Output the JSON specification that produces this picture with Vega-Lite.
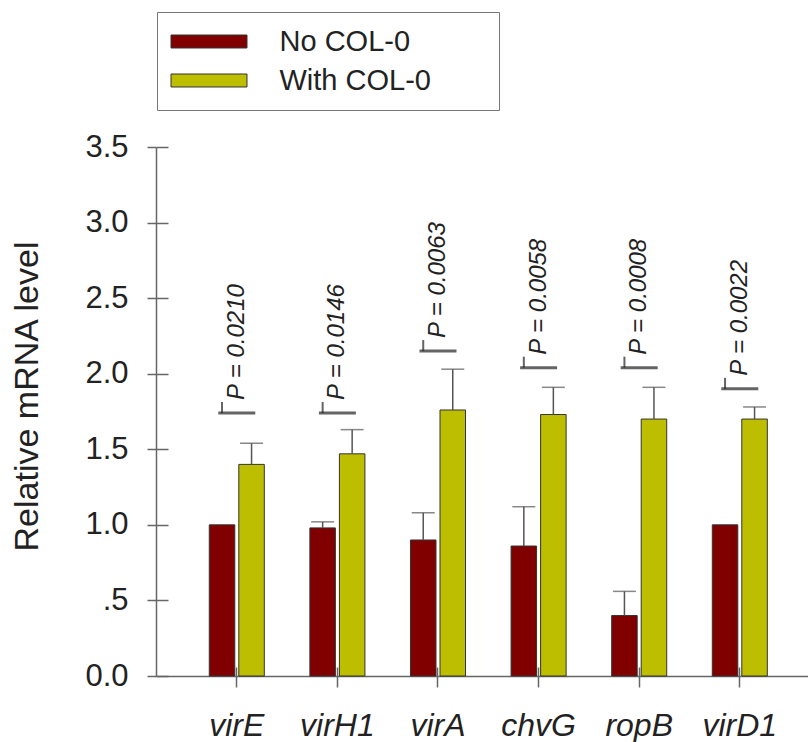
{
  "$schema": "https://vega.github.io/schema/vega-lite/v6.json",
  "autosize": "none",
  "width": 652,
  "height": 529,
  "padding": {"left": 156, "top": 147, "right": 0, "bottom": 66},
  "background": "white",
  "config": {
    "view": {"stroke": null},
    "font": "Liberation Sans",
    "axis": {"grid": false}
  },
  "datasets": {
    "expr": [
      {"gene": "virE", "group": "No COL-0", "value": 1.0, "upper": 1.0},
      {"gene": "virE", "group": "With COL-0", "value": 1.4, "upper": 1.54},
      {"gene": "virH1", "group": "No COL-0", "value": 0.98, "upper": 1.02},
      {"gene": "virH1", "group": "With COL-0", "value": 1.47, "upper": 1.63},
      {"gene": "virA", "group": "No COL-0", "value": 0.9, "upper": 1.08},
      {"gene": "virA", "group": "With COL-0", "value": 1.76, "upper": 2.03},
      {"gene": "chvG", "group": "No COL-0", "value": 0.86, "upper": 1.12},
      {"gene": "chvG", "group": "With COL-0", "value": 1.73, "upper": 1.91},
      {"gene": "ropB", "group": "No COL-0", "value": 0.4, "upper": 0.56},
      {"gene": "ropB", "group": "With COL-0", "value": 1.7, "upper": 1.91},
      {"gene": "virD1", "group": "No COL-0", "value": 1.0, "upper": 1.0},
      {"gene": "virD1", "group": "With COL-0", "value": 1.7, "upper": 1.78}
    ],
    "pvals": [
      {"gene": "virE", "label": "P = 0.0210", "pline": 1.74},
      {"gene": "virH1", "label": "P = 0.0146", "pline": 1.74},
      {"gene": "virA", "label": "P = 0.0063", "pline": 2.15},
      {"gene": "chvG", "label": "P = 0.0058", "pline": 2.04},
      {"gene": "ropB", "label": "P = 0.0008", "pline": 2.04},
      {"gene": "virD1", "label": "P = 0.0022", "pline": 1.9}
    ]
  },
  "layer": [
    {
      "data": {"name": "expr"},
      "mark": {"type": "bar", "stroke": "#333333", "strokeWidth": 1},
      "encoding": {
        "x": {
          "field": "gene", "type": "nominal",
          "sort": ["virE", "virH1", "virA", "chvG", "ropB", "virD1"],
          "scale": {"paddingInner": 0.453, "paddingOuter": 0.467, "align": 0.567},
          "axis": {
            "title": null, "labelAngle": 0, "labelFontSize": 32, "labelFontStyle": "italic",
            "labelColor": "#222222", "labelPadding": 23, "tickSize": 11, "tickColor": "#666666",
            "tickWidth": 1.5, "domainColor": "#666666", "domainWidth": 1.5
          }
        },
        "xOffset": {
          "field": "group", "type": "nominal",
          "scale": {"domain": ["No COL-0", "With COL-0"], "paddingInner": 0.136, "paddingOuter": 0}
        },
        "y": {
          "field": "value", "type": "quantitative",
          "scale": {"domain": [0, 3.5], "nice": false, "zero": true},
          "axis": {
            "values": [0, 0.5, 1, 1.5, 2, 2.5, 3, 3.5],
            "labelExpr": "datum.value == 0.5 ? '.5' : format(datum.value, '.1f')",
            "labelFontSize": 31, "labelColor": "#222222", "labelPadding": 19,
            "tickSize": 9, "tickColor": "#666666", "tickWidth": 1.5,
            "domainColor": "#666666", "domainWidth": 1.5,
            "title": "Relative mRNA level", "titleFontSize": 34, "titleFontWeight": "normal",
            "titleColor": "#222222", "titleAngle": 270, "titleAlign": "center",
            "titleBaseline": "middle", "titleX": -129, "titleY": 249
          }
        },
        "fill": {
          "field": "group", "type": "nominal",
          "scale": {"domain": ["No COL-0", "With COL-0"], "range": ["#800000", "#BEBE00"]},
          "legend": {
            "title": "\u00a0", "titleOrient": "right", "titlePadding": 54, "titleFontSize": 29,
            "orient": "none", "legendX": 1, "legendY": -135,
            "padding": 14, "strokeColor": "#777777",
            "symbolType": "M-2.533,-0.433H2.533V0.433H-2.533Z", "symbolSize": 900,
            "symbolStrokeColor": "#333333", "symbolStrokeWidth": 1, "symbolOffset": 22.5,
            "labelOffset": 55, "labelFontSize": 29, "labelColor": "#222222",
            "rowPadding": 8, "labelLimit": 400
          }
        }
      }
    },
    {
      "data": {"name": "expr"},
      "transform": [{"filter": "datum.upper > datum.value"}],
      "mark": {"type": "rule", "color": "#555555", "strokeWidth": 1.5},
      "encoding": {
        "x": {"field": "gene", "type": "nominal", "sort": ["virE", "virH1", "virA", "chvG", "ropB", "virD1"], "axis": null},
        "xOffset": {"field": "group", "type": "nominal"},
        "y": {"field": "value", "type": "quantitative", "axis": null},
        "y2": {"field": "upper"}
      }
    },
    {
      "data": {"name": "expr"},
      "transform": [{"filter": "datum.upper > datum.value"}],
      "mark": {"type": "tick", "color": "#555555", "thickness": 1.5, "size": 23},
      "encoding": {
        "x": {"field": "gene", "type": "nominal", "sort": ["virE", "virH1", "virA", "chvG", "ropB", "virD1"], "axis": null},
        "xOffset": {"field": "group", "type": "nominal"},
        "y": {"field": "upper", "type": "quantitative", "axis": null}
      }
    },
    {
      "mark": {"type": "rule", "color": "#666666", "strokeWidth": 1.5},
      "encoding": {
        "y": {
          "datum": 3.5, "type": "quantitative",
          "axis": {
            "orient": "left", "offset": -12, "values": [0, 0.5, 1, 1.5, 2, 2.5, 3, 3.5],
            "tickSize": 12, "tickColor": "#666666", "tickWidth": 1.5,
            "labels": false, "domain": false, "title": null
          }
        }
      }
    },
    {
      "data": {"name": "pvals"},
      "mark": {"type": "tick", "color": "#222222", "thickness": 3, "size": 37},
      "encoding": {
        "x": {
          "field": "gene", "type": "nominal", "sort": ["virE", "virH1", "virA", "chvG", "ropB", "virD1"],
          "axis": {
            "orient": "bottom", "offset": -9, "tickSize": 9, "tickColor": "#666666",
            "tickWidth": 1.5, "labels": false, "domain": false, "title": null
          }
        },
        "y": {"field": "pline", "type": "quantitative", "axis": null}
      }
    },
    {
      "data": {"name": "pvals"},
      "mark": {"type": "tick", "orient": "vertical", "color": "#222222", "thickness": 2, "size": 11, "yOffset": -5.5},
      "encoding": {
        "x": {"field": "gene", "type": "nominal", "sort": ["virE", "virH1", "virA", "chvG", "ropB", "virD1"], "axis": null},
        "xOffset": {"datum": "No COL-0"},
        "y": {"field": "pline", "type": "quantitative", "axis": null}
      }
    },
    {
      "data": {"name": "pvals"},
      "mark": {
        "type": "text", "angle": 270, "align": "left", "baseline": "middle",
        "dx": 13, "fontSize": 24, "fontStyle": "italic", "color": "#222222"
      },
      "encoding": {
        "x": {"field": "gene", "type": "nominal", "sort": ["virE", "virH1", "virA", "chvG", "ropB", "virD1"], "axis": null},
        "y": {"field": "pline", "type": "quantitative", "axis": null},
        "text": {"field": "label"}
      }
    }
  ],
  "resolve": {"axis": {"x": "independent", "y": "independent"}}
}
